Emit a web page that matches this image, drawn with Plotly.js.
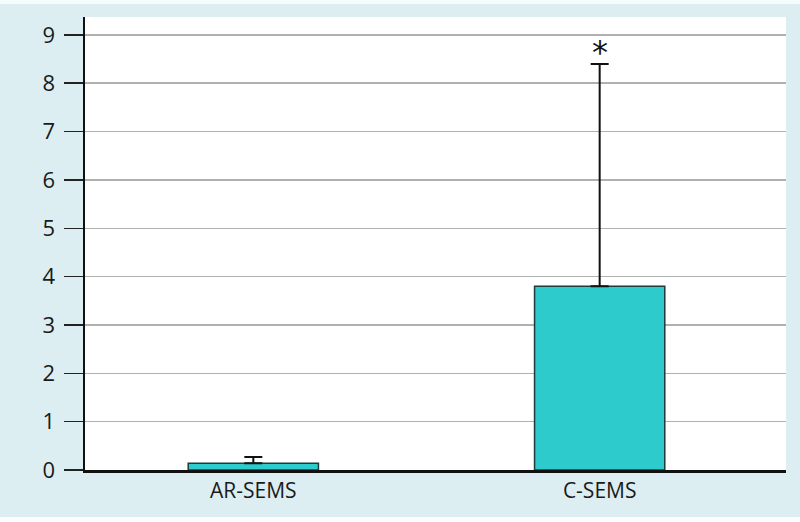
<!DOCTYPE html>
<html>
<head>
<meta charset="utf-8">
<script src="https://cdn.plot.ly/plotly-3.0.1.min.js"></script>
<style>html,body{margin:0;padding:0;}#chart{width:800px;height:522px;}</style>
</head>
<body>
<div id="chart"></div>
<script>
var categories = ["AR-SEMS", "C-SEMS"];
var values = [0.14, 3.8];
var errors = [0.13, 4.6];
var significance = ["", "*"];
var yTicks = [0, 1, 2, 3, 4, 5, 6, 7, 8, 9];

var trace = {
  type: "bar",
  x: categories,
  y: values,
  width: 0.376,
  marker: {color: "#2ecbcc", line: {color: "#1d3b3b", width: 1.5}},
  error_y: {type: "data", array: errors, arrayminus: errors.map(function(){return 0;}), symmetric: false, color: "#111111", thickness: 2, width: 9},
  hoverinfo: "none"
};

var annotations = [];
for (var i = 0; i < categories.length; i++) {
  if (significance[i]) {
    annotations.push({x: categories[i], y: values[i] + errors[i], text: significance[i], showarrow: false,
      xanchor: "center", yanchor: "bottom", yshift: -9, font: {size: 32, color: "#111111", family: "DejaVu Sans, sans-serif"}});
  }
}

var layout = {
  width: 800, height: 522,
  margin: {l: 85, r: 14, t: 17, b: 52},
  paper_bgcolor: "#dceef2",
  plot_bgcolor: "#ffffff",
  font: {family: "Open Sans, sans-serif", size: 21, color: "#1a1a1a"},
  showlegend: false,
  xaxis: {
    range: [-0.486, 1.538],
    showline: true, linecolor: "#111111", linewidth: 2.5,
    ticks: "", showgrid: false, zeroline: false,
    tickfont: {size: 21}
  },
  yaxis: {
    range: [0, 9.37],
    tickvals: yTicks,
    ticks: "outside", ticklen: 19, tickwidth: 1.5, tickcolor: "#222222",
    ticklabelstandoff: 4,
    showline: true, linecolor: "#111111", linewidth: 2.5,
    showgrid: true, gridcolor: "#b0b0b0", gridwidth: 1.5,
    zeroline: false,
    tickfont: {size: 22}
  },
  annotations: annotations,
  shapes: [
    {type: "rect", xref: "paper", yref: "paper", x0: -0.2, x1: 1.1, y0: 1.0 + (17 - 4) / 453, y1: 1.2, fillcolor: "#f6fbfc", line: {width: 0}, layer: "below"},
    {type: "rect", xref: "paper", yref: "paper", x0: -0.2, x1: 1.1, y0: -0.2, y1: -(517 - 470) / 453, fillcolor: "#fbfdfd", line: {width: 0}, layer: "below"}
  ]
};

Plotly.newPlot("chart", [trace], layout, {displayModeBar: false, staticPlot: true});
</script>
</body>
</html>
